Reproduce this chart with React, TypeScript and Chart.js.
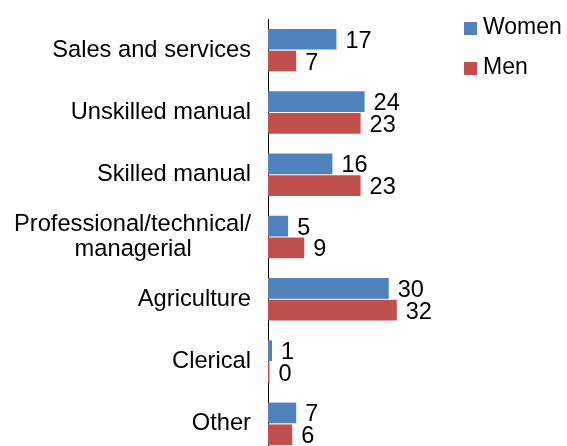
import React, { useEffect, useRef } from "react";
import { Chart, registerables } from "chart.js";
Chart.register(...registerables);

const FONT = "'Liberation Sans', Arial, Helvetica, sans-serif";

const categories: (string | string[])[] = [
  "Sales and services",
  "Unskilled manual",
  "Skilled manual",
  ["Professional/technical/", "managerial         "],
  "Agriculture",
  "Clerical",
  "Other",
];
const seriesNames = ["Women", "Men"];
const womenValues = [17, 24, 16, 5, 30, 1, 7];
const menValues = [7, 23, 23, 9, 32, 0, 6];
const seriesColors = ["#4F81BD", "#C0504D"];
const xMax = 40;

const valueLabels = {
  id: "valueLabels",
  afterDatasetsDraw(chart: any) {
    const ctx = chart.ctx;
    ctx.save();
    ctx.font = `23.5px ${FONT}`;
    ctx.fillStyle = "#000";
    ctx.textBaseline = "middle";
    ctx.textAlign = "left";
    chart.data.datasets.forEach((ds: any, i: number) => {
      chart.getDatasetMeta(i).data.forEach((el: any, j: number) => {
        ctx.fillText(String(ds.data[j]), el.x + 9, el.y + 2);
      });
    });
    ctx.restore();
  },
};

const customLegend = {
  id: "customLegend",
  afterDraw(chart: any) {
    const ctx = chart.ctx;
    ctx.save();
    ctx.font = `23px ${FONT}`;
    ctx.textBaseline = "middle";
    ctx.textAlign = "left";
    const x = chart.width - 103;
    chart.data.datasets.forEach((ds: any, i: number) => {
      const cy = 28 + i * 40;
      ctx.fillStyle = ds.backgroundColor;
      ctx.fillRect(x, cy - 6, 13, 13);
      ctx.fillStyle = "#000";
      ctx.fillText(ds.label, x + 19, cy);
    });
    ctx.restore();
  },
};

export default function App() {
  const ref = useRef<HTMLCanvasElement | null>(null);
  useEffect(() => {
    if (!ref.current) return;
    const chart = new Chart(ref.current, {
      type: "bar",
      data: {
        labels: categories as any,
        datasets: [
          {
            label: seriesNames[0],
            data: womenValues,
            backgroundColor: seriesColors[0],
            borderWidth: 0,
            barPercentage: 0.95,
            categoryPercentage: 0.7,
            minBarLength: 1.5,
          },
          {
            label: seriesNames[1],
            data: menValues,
            backgroundColor: seriesColors[1],
            borderWidth: 0,
            barPercentage: 0.95,
            categoryPercentage: 0.7,
            minBarLength: 1.5,
          },
        ],
      },
      options: {
        indexAxis: "y",
        animation: false,
        responsive: false,
        layout: { padding: { top: 19, bottom: 15, left: 0, right: 138 } },
        plugins: {
          legend: { display: false },
          tooltip: { enabled: false },
        },
        scales: {
          x: { display: false, min: 0, max: xMax },
          y: {
            grid: { display: false, drawTicks: false },
            border: { display: true, color: "#000", width: 1 },
            ticks: {
              padding: 17,
              color: "#000",
              autoSkip: false,
              font: { family: FONT, size: 23.7, lineHeight: 1.05 },
            },
            afterFit: (s: any) => {
              s.width = 268;
              s.paddingTop = 0;
              s.paddingBottom = 0;
            },
          },
        },
      },
      plugins: [valueLabels, customLegend],
    });
    return () => chart.destroy();
  }, []);
  return (
    <div style={{ position: "fixed", left: 0, top: 0, width: 567, height: 470, background: "#fff" }}>
      <canvas ref={ref} width={567} height={470} style={{ display: "block" }} />
    </div>
  );
}
